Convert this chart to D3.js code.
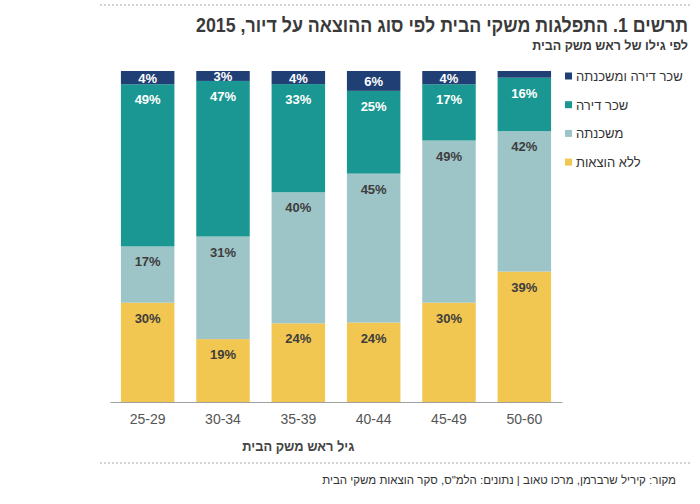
<!DOCTYPE html>
<html lang="he">
<head>
<meta charset="utf-8">
<script src="https://cdn.jsdelivr.net/npm/d3@7"></script>
<style>
  body { margin: 0; background: #fff; }
  svg { font-family: "Liberation Sans", Arial, sans-serif; }
</style>
</head>
<body>
<div id="chart"></div>
<script>
// age groups of head of household
const ageGroups = ['25-29', '30-34', '35-39', '40-44', '45-49', '50-60'];

// series, bottom to top (percent)
const seriesNames = ['ללא הוצאות', 'משכנתה', 'שכר דירה', 'שכר דירה ומשכנתה'];
const noExpense = [30, 19, 24, 24, 30, 39];
const mortgage = [17, 31, 40, 45, 49, 42];
const rent = [49, 47, 33, 25, 17, 16];
const rentAndMortgage = [4, 3, 4, 6, 4, 2];
const seriesValues = [noExpense, mortgage, rent, rentAndMortgage];

const colors = ['#f1c651', '#9dc4c7', '#1a9792', '#203f75'];
const labelColors = ['#3d3d3d', '#3d3d3d', '#ffffff', '#ffffff'];

const title = 'תרשים 1. התפלגות משקי הבית לפי סוג ההוצאה על דיור, 2015';
const subtitle = 'לפי גילו של ראש משק הבית';
const xTitle = 'גיל ראש משק הבית';
const source = 'מקור: קיריל שרברמן, מרכו טאוב | נתונים: הלמ"ס, סקר הוצאות משקי הבית';

const width = 700, height = 504;

const svg = d3.select('#chart')
    .append('svg')
    .attr('width', width)
    .attr('height', height);

// table for d3.stack
const table = ageGroups.map((g, i) => {
    const row = { group: g };
    seriesNames.forEach((s, j) => { row[s] = seriesValues[j][i]; });
    return row;
});

const stacked = d3.stack()
    .keys(seriesNames)
    .offset(d3.stackOffsetExpand)(table);

const x = d3.scaleBand()
    .domain(ageGroups)
    .range([110, 562])
    .paddingInner(0.29)
    .paddingOuter(0.145);

const y = d3.scaleLinear()
    .domain([0, 1])
    .range([402, 71]);

// dotted separators
[5, 463].forEach(yy => {
    svg.append('line')
        .attr('x1', 100).attr('x2', 690)
        .attr('y1', yy).attr('y2', yy)
        .attr('stroke', '#a8a8a8')
        .attr('stroke-width', 1)
        .attr('stroke-dasharray', '2,2');
});

// titles (the original face is condensed, so squeeze to its width)
svg.append('text')
    .attr('x', 688).attr('y', 32)
    .attr('direction', 'rtl')
    .attr('text-anchor', 'start')
    .attr('font-size', 20)
    .attr('font-weight', 'bold')
    .attr('fill', '#3a3a3a')
    .attr('textLength', 492)
    .attr('lengthAdjust', 'spacingAndGlyphs')
    .text(title);

svg.append('text')
    .attr('x', 688).attr('y', 50)
    .attr('direction', 'rtl')
    .attr('text-anchor', 'start')
    .attr('font-size', 12.5)
    .attr('font-weight', 'bold')
    .attr('fill', '#3a3a3a')
    .text(subtitle);

// bars
const layer = svg.append('g')
    .selectAll('g')
    .data(stacked)
    .join('g')
    .attr('fill', (d, i) => colors[i]);

layer.selectAll('rect')
    .data(d => d)
    .join('rect')
    .attr('x', d => x(d.data.group))
    .attr('y', d => y(d[1]))
    .attr('width', x.bandwidth())
    .attr('height', d => y(d[0]) - y(d[1]));

// value labels
stacked.forEach((s, i) => {
    svg.append('g')
        .selectAll('text')
        .data(s.filter(d => d.data[s.key] >= 3))
        .join('text')
        .attr('x', d => x(d.data.group) + x.bandwidth() / 2)
        .attr('y', d => {
            const top = y(d[1]), mid = (y(d[0]) + y(d[1])) / 2;
            return Math.min(top + 20, mid + 5);
        })
        .attr('text-anchor', 'middle')
        .attr('font-size', 13)
        .attr('font-weight', 'bold')
        .attr('fill', labelColors[i])
        .text(d => d.data[s.key] + '%');
});

// x axis
const xAxis = svg.append('g')
    .attr('transform', 'translate(0,402)')
    .call(d3.axisBottom(x).tickSize(0).tickPadding(12));

xAxis.select('.domain').attr('stroke', '#a0a0a0');
xAxis.selectAll('text')
    .attr('font-family', '"Liberation Sans", Arial, sans-serif')
    .attr('font-size', 14)
    .attr('fill', '#555');

svg.append('text')
    .attr('x', x(ageGroups[2]) + x.bandwidth() / 2)
    .attr('y', 451)
    .attr('text-anchor', 'middle')
    .attr('font-size', 14)
    .attr('font-weight', 'bold')
    .attr('fill', '#444')
    .attr('textLength', 112)
    .attr('lengthAdjust', 'spacingAndGlyphs')
    .text(xTitle);

// legend, top series first
const legend = svg.append('g')
    .selectAll('g')
    .data(seriesNames.slice().reverse())
    .join('g')
    .attr('transform', (d, i) => `translate(565,${76 + i * 28.7})`);

legend.append('rect')
    .attr('x', 0).attr('y', -3.5)
    .attr('width', 7).attr('height', 7)
    .attr('fill', d => colors[seriesNames.indexOf(d)]);

legend.append('text')
    .attr('x', 11).attr('y', 5)
    .attr('font-size', 13)
    .attr('fill', '#333')
    .text(d => d);

// source
svg.append('text')
    .attr('x', 676).attr('y', 484)
    .attr('direction', 'rtl')
    .attr('text-anchor', 'start')
    .attr('font-size', 11.5)
    .attr('fill', '#333')
    .text(source);
</script>
</body>
</html>
